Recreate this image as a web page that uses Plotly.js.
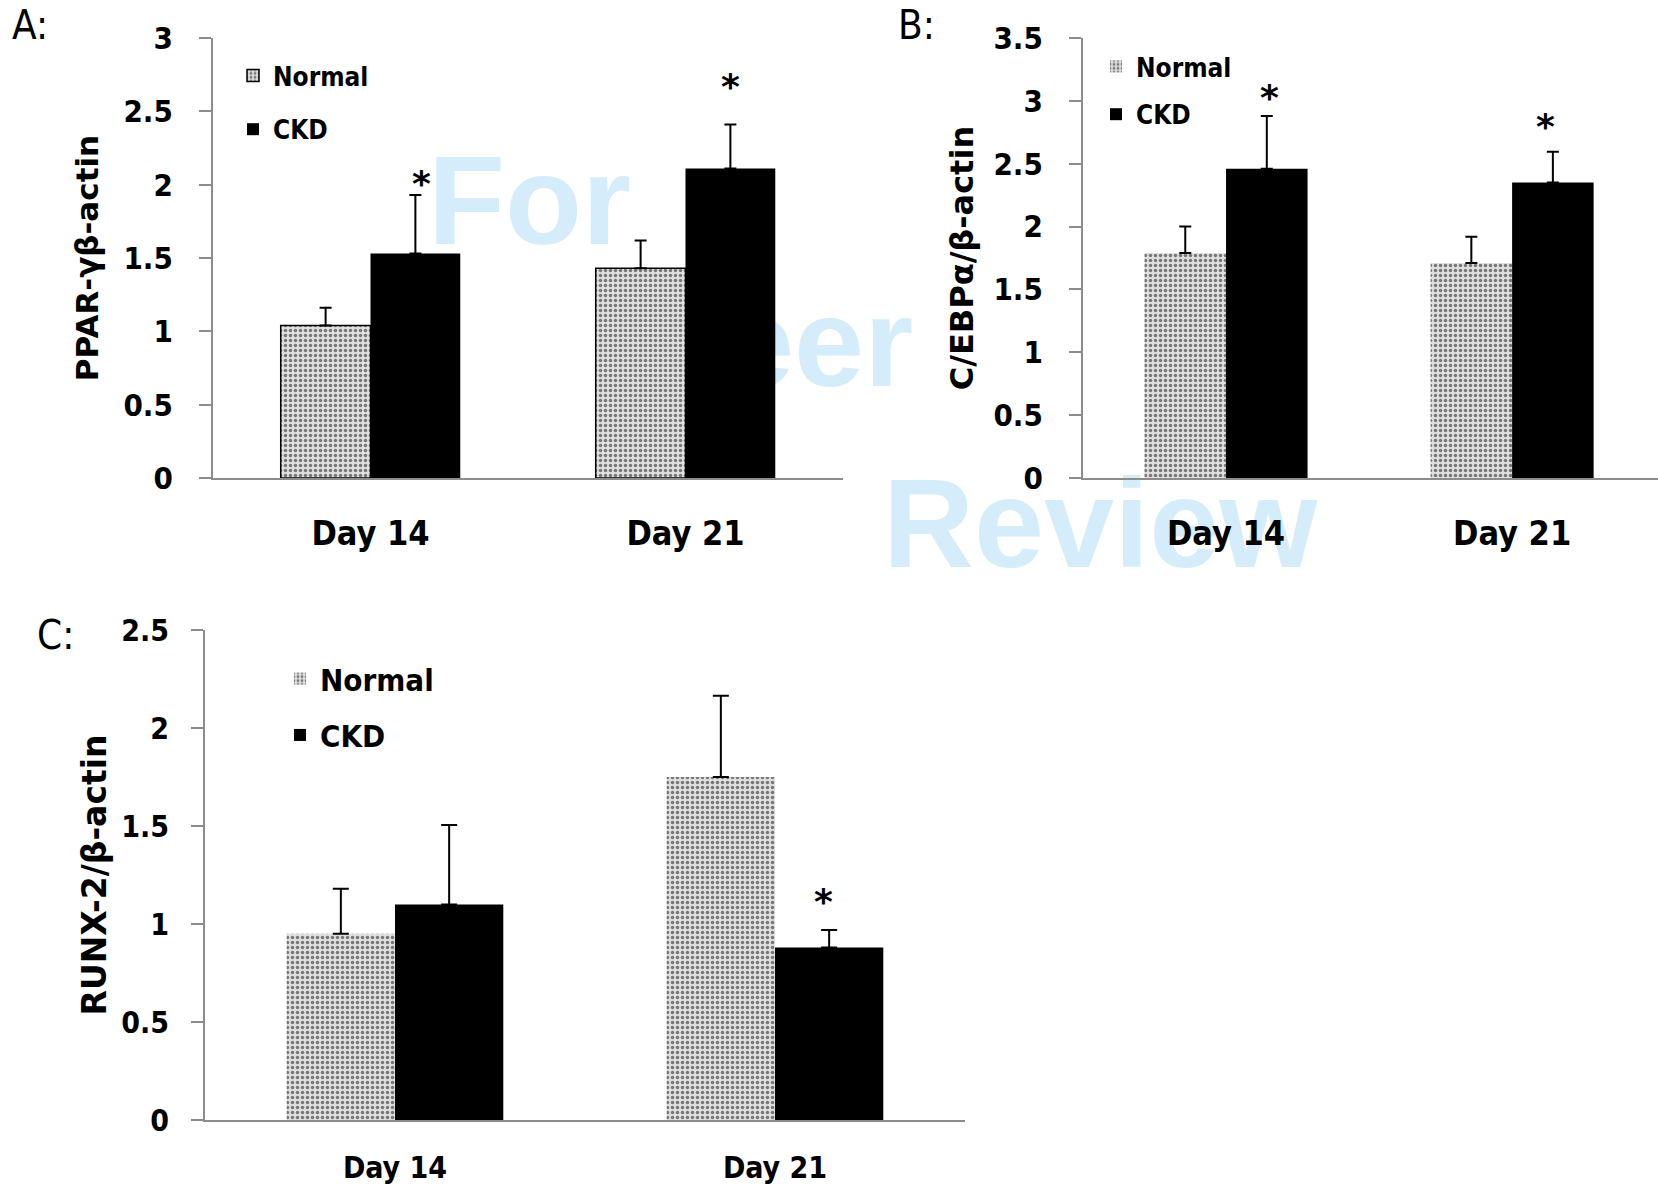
<!DOCTYPE html>
<html>
<head>
<meta charset="utf-8">
<script src="https://cdn.plot.ly/plotly-3.0.1.min.js"></script>
<style>
  html, body { margin: 0; padding: 0; background: #ffffff; }
  #wrap { position: relative; width: 1658px; height: 1186px; overflow: hidden; }
  .wm { position: absolute; z-index: 0; font-family: "Liberation Sans", Arial, sans-serif; font-weight: bold;
        font-size: 126px; line-height: 126px; color: #d5edfa; white-space: nowrap; }
  #plot { position: absolute; left: 0; top: 0; z-index: 1; }
</style>
</head>
<body>
<div id="wrap">
  <div class="wm" style="left:428px; top:138px;">For</div>
  <div class="wm" style="left:640px; top:280px;">Peer</div>
  <div class="wm" style="left:883px; top:461px;">Review</div>
  <div id="plot"></div>
</div>
<script>
// ---------- data ----------
const categories = ['Day 14', 'Day 21'];
const seriesNames = ['Normal', 'CKD'];

// Panel A: PPAR-γ / β-actin
const normalA = [1.04, 1.43];
const normalAErr = [0.12, 0.19];
const ckdA = [1.53, 2.11];
const ckdAErr = [0.40, 0.30];
const starA = [2.03, 2.69];          // asterisk heights (CKD bars)

// Panel B: C/EBPα / β-actin
const normalB = [1.79, 1.71];
const normalBErr = [0.21, 0.21];
const ckdB = [2.46, 2.35];
const ckdBErr = [0.42, 0.245];
const starB = [3.05, 2.82];

// Panel C: RUNX-2 / β-actin
const normalC = [0.95, 1.75];
const normalCErr = [0.23, 0.415];
const ckdC = [1.10, 0.88];
const ckdCErr = [0.405, 0.09];
const starC = [null, 1.13];

const noDown = [0, 0];

const yTitles = ['PPAR-γβ-actin', 'C/EBPα/β-actin', 'RUNX-2/β-actin'];
const panelLabels = ['A:', 'B:', 'C:'];
const yRanges = [[0, 3], [0, 3.5], [0, 2.5]];

// ---------- styles ----------
const W = 1658, H = 1186;
const condensed = '"DejaVu Sans Condensed", "DejaVu Sans", sans-serif';
const wide = '"DejaVu Sans", "Open Sans", sans-serif';
const axisGray = '#8c8c8c';
const BARGAP = 0.43;
// small horizontal nudges (px) of the asterisks
const starNudgeA = [6, 0], starNudgeB = [3, -7], starNudgeC = [0, -6];

function normalTrace(y, err, xa, ya, leg, bordered, errW) {
  return {
    type: 'bar', name: seriesNames[0], x: categories, y: y,
    xaxis: xa, yaxis: ya, legend: leg, legendgroup: leg + 'n',
    marker: {
      color: '#dedede',
      line: { color: '#000000', width: bordered ? 1.5 : 0 },
      pattern: { shape: '.', fgcolor: '#777777', bgcolor: '#e0e0e0', size: 5, solidity: 0.38 }
    },
    error_y: { type: 'data', symmetric: false, array: err, arrayminus: noDown,
               color: '#000000', thickness: 2, width: errW },
    hoverinfo: 'skip'
  };
}
function ckdTrace(y, err, xa, ya, leg, errW) {
  return {
    type: 'bar', name: seriesNames[1], x: categories, y: y,
    xaxis: xa, yaxis: ya, legend: leg, legendgroup: leg + 'c',
    marker: { color: '#000000', line: { width: 0 } },
    error_y: { type: 'data', symmetric: false, array: err, arrayminus: noDown,
               color: '#000000', thickness: 2, width: errW },
    hoverinfo: 'skip'
  };
}

const traces = [
  normalTrace(normalA, normalAErr, 'x', 'y', 'legend', true, 6),
  ckdTrace(ckdA, ckdAErr, 'x', 'y', 'legend', 6),
  normalTrace(normalB, normalBErr, 'x2', 'y2', 'legend2', false, 6),
  ckdTrace(ckdB, ckdBErr, 'x2', 'y2', 'legend2', 6),
  normalTrace(normalC, normalCErr, 'x3', 'y3', 'legend3', false, 8),
  ckdTrace(ckdC, ckdCErr, 'x3', 'y3', 'legend3', 8)
];

const px = v => v / W;
const py = v => 1 - v / H;

function xAxis(domain, tickSize, standoff, range, anchor) {
  return {
    domain: domain, type: 'category', range: range, anchor: anchor,
    showline: true, linecolor: axisGray, linewidth: 2,
    ticks: '', showgrid: false, zeroline: false,
    tickfont: { family: condensed, size: tickSize, weight: 'bold', color: '#000' },
    ticklabelstandoff: standoff, fixedrange: true
  };
}
function yAxis(domain, range, title, titleSize, titleStandoff, tickSize, labelStandoff, anchor) {
  return {
    domain: domain, range: range, anchor: anchor,
    dtick: 0.5, tick0: 0,
    showline: true, linecolor: axisGray, linewidth: 2,
    ticks: 'outside', ticklen: 12, tickwidth: 2, tickcolor: axisGray,
    showgrid: false, zeroline: false,
    tickfont: { family: condensed, size: tickSize, weight: 'bold', color: '#000' },
    ticklabelstandoff: labelStandoff,
    title: { text: title, font: { family: wide, size: titleSize, weight: 'bold', color: '#000' }, standoff: titleStandoff },
    fixedrange: true
  };
}

const ckdOffset = (1 - BARGAP) / 4;   // CKD bar centre within a category

function starAnnots(stars, nudge, xref, yref) {
  const out = [];
  stars.forEach((s, i) => {
    if (s === null) return;
    out.push({
      x: i + ckdOffset, y: s, xref: xref, yref: yref, text: '*', showarrow: false,
      xanchor: 'center', yanchor: 'middle', yshift: -3, xshift: nudge[i],
      font: { family: wide, size: 36, weight: 'bold', color: '#000' }
    });
  });
  return out;
}

const labelFont = { family: condensed, size: 40, color: '#000' };
const annotations = [
  { x: px(10), y: py(0), xref: 'paper', yref: 'paper', text: panelLabels[0], showarrow: false,
    xanchor: 'left', yanchor: 'top', font: labelFont },
  { x: px(896), y: py(0), xref: 'paper', yref: 'paper', text: panelLabels[1], showarrow: false,
    xanchor: 'left', yanchor: 'top', font: labelFont },
  { x: px(35), y: py(610), xref: 'paper', yref: 'paper', text: panelLabels[2], showarrow: false,
    xanchor: 'left', yanchor: 'top', font: labelFont }
].concat(starAnnots(starA, starNudgeA, 'x', 'y'),
         starAnnots(starB, starNudgeB, 'x2', 'y2'),
         starAnnots(starC, starNudgeC, 'x3', 'y3'));

function legendCfg(x, y, size, gap) {
  return {
    x: x, y: y, xanchor: 'left', yanchor: 'top', bgcolor: 'rgba(0,0,0,0)', borderwidth: 0,
    font: { family: condensed, size: size, weight: 'bold', color: '#000' },
    tracegroupgap: gap, traceorder: 'grouped', itemclick: false, itemdoubleclick: false
  };
}

const layout = {
  width: W, height: H,
  margin: { l: 0, r: 0, t: 0, b: 0 },
  paper_bgcolor: 'rgba(0,0,0,0)', plot_bgcolor: 'rgba(0,0,0,0)',
  barmode: 'group', bargap: BARGAP, bargroupgap: 0,
  font: { family: condensed, color: '#000' },
  showlegend: true,
  xaxis: xAxis([px(213), px(843)], 34, 24, [-0.5, 1.5], 'y'),
  yaxis: yAxis([py(478), py(38)], yRanges[0], yTitles[0], 31, 16, 31, 20, 'x'),
  xaxis2: xAxis([px(1083), 1], 34, 24, [-0.5, 1.51], 'y2'),
  yaxis2: yAxis([py(478), py(38)], yRanges[1], yTitles[1], 32, 10, 31, 20, 'x2'),
  xaxis3: xAxis([px(205), px(965)], 30, 20, [-0.5, 1.5], 'y3'),
  yaxis3: yAxis([py(1120), py(630)], yRanges[2], yTitles[2], 33, 5, 30, 16, 'x3'),
  legend: legendCfg(px(233), py(52), 26, 17),
  legend2: legendCfg(px(1096), py(43), 26, 11),
  legend3: legendCfg(px(280), py(652), 31, 13),
  annotations: annotations
};

Plotly.newPlot('plot', traces, layout, { staticPlot: true, displayModeBar: false });
</script>
</body>
</html>
